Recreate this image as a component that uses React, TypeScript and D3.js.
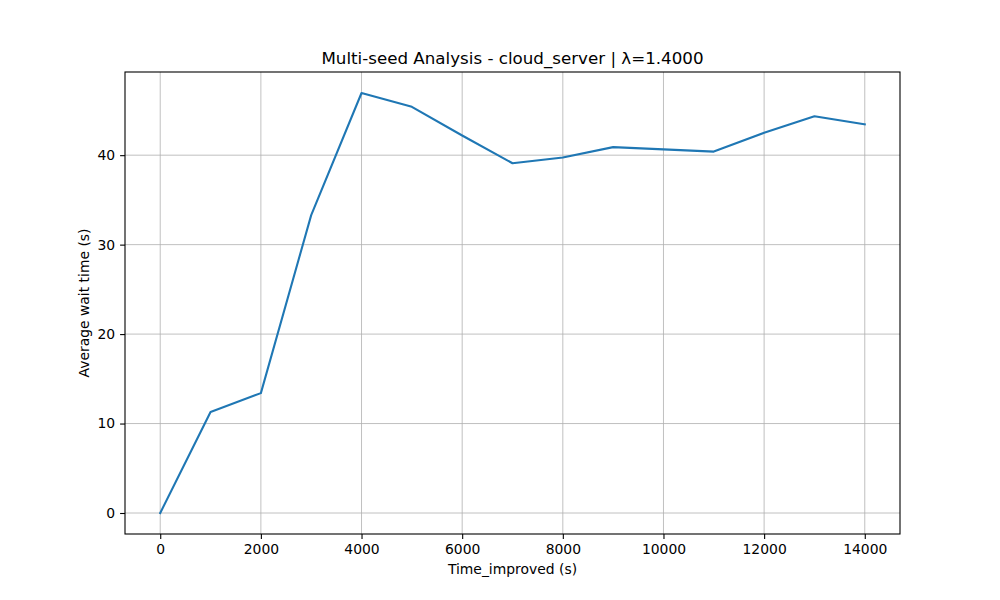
import React, { useRef, useEffect } from "react";
import * as d3 from "d3";

// values
const timeImproved = [0, 1000, 2000, 3000, 4000, 5000, 6000, 7000, 8000, 9000, 10000, 11000, 12000, 13000, 14000];
const avgWait = [0, 11.3, 13.4, 33.3, 46.95, 45.4, 42.2, 39.1, 39.75, 40.9, 40.65, 40.4, 42.5, 44.35, 43.45];
const xTicks = [0, 2000, 4000, 6000, 8000, 10000, 12000, 14000];
const yTicks = [0, 10, 20, 30, 40];

const title = "Multi-seed Analysis - cloud_server | λ=1.4000";
const xLabel = "Time_improved (s)";
const yLabel = "Average wait time (s)";

const App = () => {
  const ref = useRef<HTMLDivElement>(null);
  const width = 1000;
  const height = 600;
  const margin = { top: 72, right: 100, bottom: 66, left: 125 };
  const font = "DejaVu Sans, sans-serif";

  useEffect(() => {
    d3.select(ref.current).select("svg").remove();

    const svg = d3
      .select(ref.current)
      .append("svg")
      .attr("width", width)
      .attr("height", height)
      .style("display", "block")
      .style("background", "#fff");

    const x0 = d3.min(timeImproved)!;
    const x1 = d3.max(timeImproved)!;
    const y0 = d3.min(avgWait)!;
    const y1 = d3.max(avgWait)!;
    const px = (x1 - x0) * 0.05;
    const py = (y1 - y0) * 0.05;

    const x = d3
      .scaleLinear()
      .domain([x0 - px, x1 + px])
      .range([margin.left, width - margin.right]);
    const y = d3
      .scaleLinear()
      .domain([y0 - py, y1 + py])
      .range([height - margin.bottom, margin.top]);

    const top = margin.top;
    const bottom = height - margin.bottom;
    const left = margin.left;
    const right = width - margin.right;

    // grid
    const grid = svg.append("g").attr("stroke", "#b0b0b0").attr("stroke-width", 0.8);
    grid
      .selectAll("line.vx")
      .data(xTicks)
      .join("line")
      .attr("x1", (d) => x(d))
      .attr("x2", (d) => x(d))
      .attr("y1", top)
      .attr("y2", bottom);
    grid
      .selectAll("line.hy")
      .data(yTicks)
      .join("line")
      .attr("x1", left)
      .attr("x2", right)
      .attr("y1", (d) => y(d))
      .attr("y2", (d) => y(d));

    // data line
    const line = d3
      .line<number>()
      .x((_, i) => x(timeImproved[i]))
      .y((d) => y(d));
    svg
      .append("path")
      .datum(avgWait)
      .attr("fill", "none")
      .attr("stroke", "#1f77b4")
      .attr("stroke-width", 2.08)
      .attr("stroke-linejoin", "round")
      .attr("stroke-linecap", "square")
      .attr("d", line);

    // axes
    const xAxis = svg
      .append("g")
      .attr("transform", `translate(0,${bottom})`)
      .call(d3.axisBottom(x).tickValues(xTicks).tickSize(4.9).tickPadding(4.9).tickFormat(d3.format("d")));
    const yAxis = svg
      .append("g")
      .attr("transform", `translate(${left},0)`)
      .call(d3.axisLeft(y).tickValues(yTicks).tickSize(4.9).tickPadding(4.9).tickFormat(d3.format("d")));

    [xAxis, yAxis].forEach((g) => {
      g.select(".domain").remove();
      g.selectAll(".tick line").attr("stroke", "#000").attr("stroke-width", 1.1);
      g.selectAll(".tick text")
        .attr("fill", "#000")
        .style("font-family", font)
        .style("font-size", "13.9px");
    });

    // frame
    svg
      .append("rect")
      .attr("x", left)
      .attr("y", top)
      .attr("width", right - left)
      .attr("height", bottom - top)
      .attr("fill", "none")
      .attr("stroke", "#000")
      .attr("stroke-width", 1.1);

    // labels
    svg
      .append("text")
      .attr("x", (left + right) / 2)
      .attr("y", 64)
      .attr("text-anchor", "middle")
      .style("font-family", font)
      .style("font-size", "16.7px")
      .text(title);

    svg
      .append("text")
      .attr("x", (left + right) / 2)
      .attr("y", 574)
      .attr("text-anchor", "middle")
      .style("font-family", font)
      .style("font-size", "13.9px")
      .text(xLabel);

    svg
      .append("text")
      .attr("transform", `translate(89,${(top + bottom) / 2}) rotate(-90)`)
      .attr("text-anchor", "middle")
      .style("font-family", font)
      .style("font-size", "13.9px")
      .text(yLabel);
  }, []);

  return <div ref={ref} style={{ position: "absolute", left: 0, top: 0 }} />;
};

export default App;
